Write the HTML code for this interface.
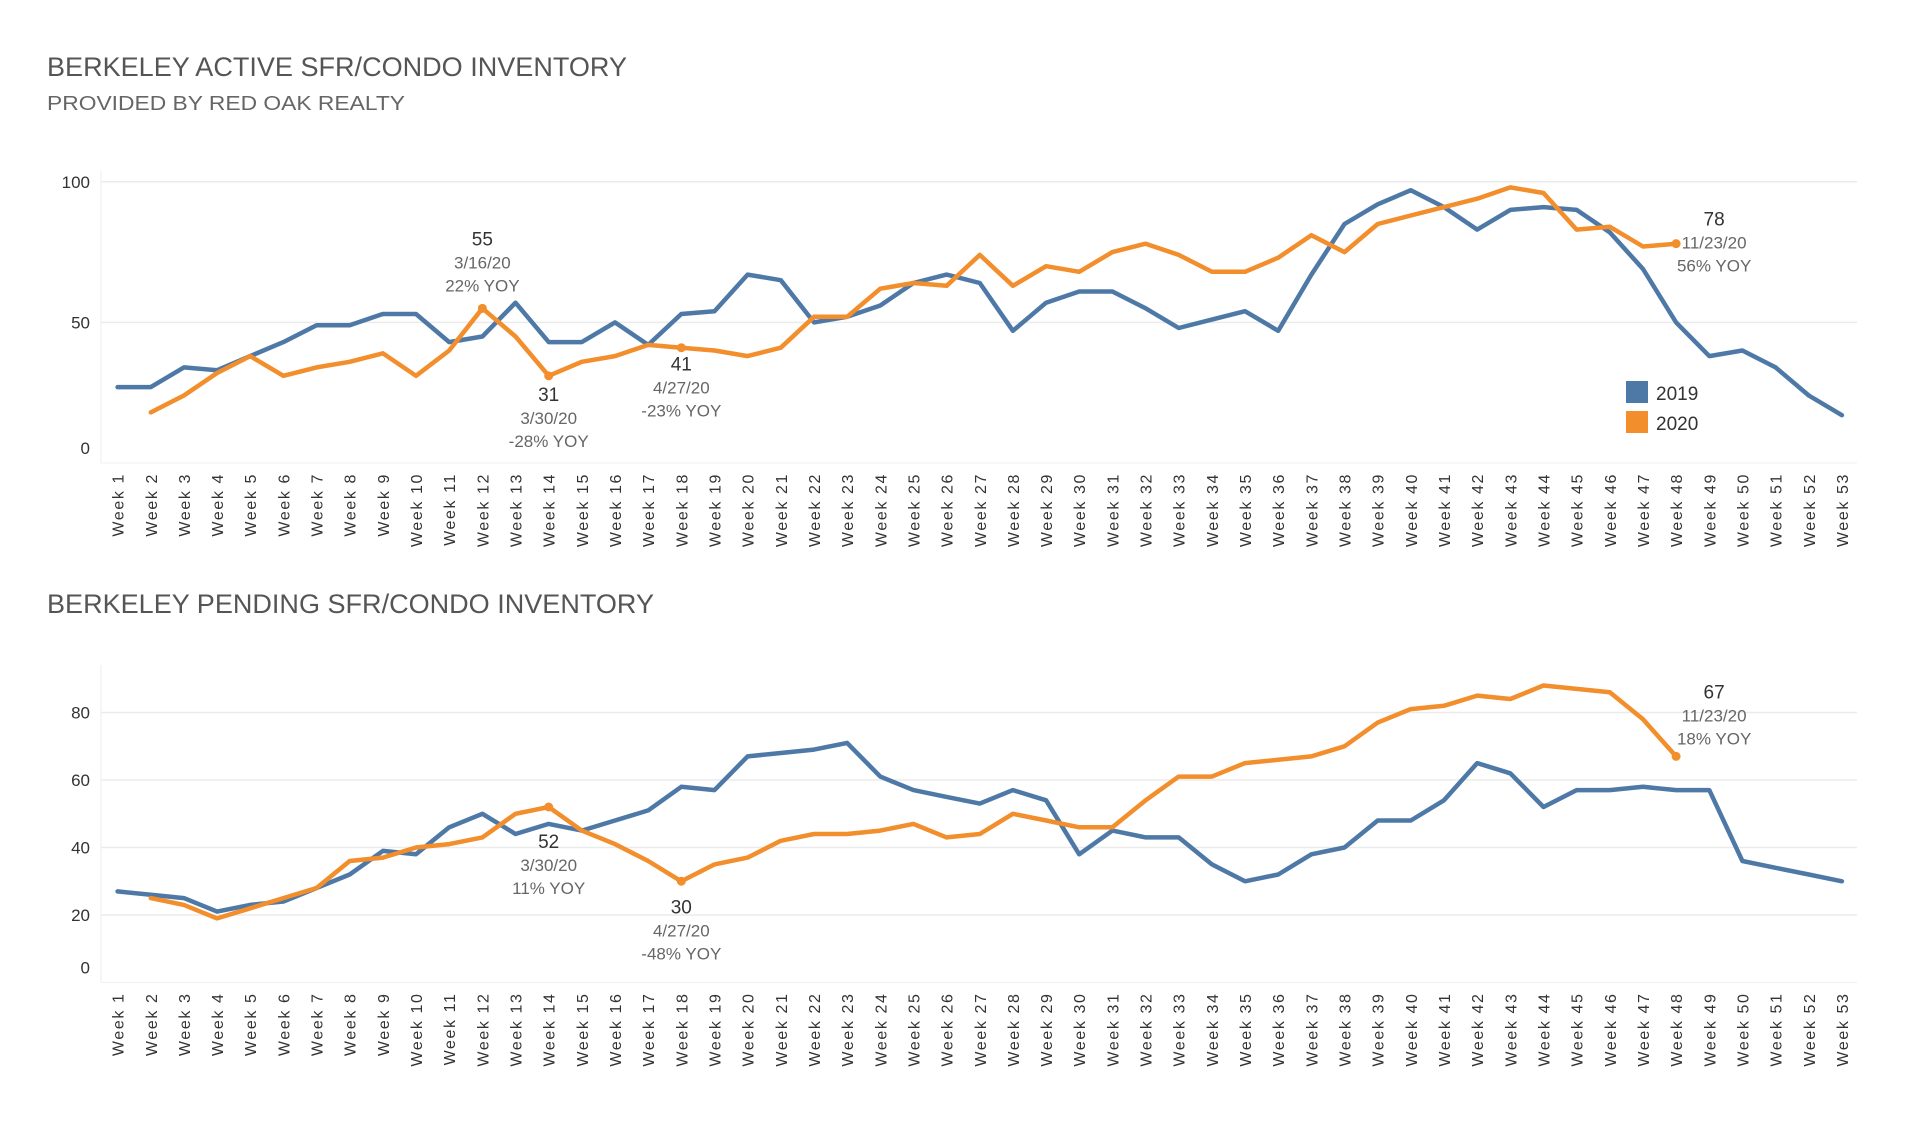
<!DOCTYPE html>
<html><head><meta charset="utf-8"><style>
body{margin:0;background:#fff;}
svg{display:block;font-family:"Liberation Sans",sans-serif;}
</style></head><body>
<svg id="svg" width="1920" height="1130" viewBox="0 0 1920 1130">
<text x="47" y="76" font-size="27" fill="#555" textLength="580" lengthAdjust="spacingAndGlyphs">BERKELEY ACTIVE SFR/CONDO INVENTORY</text>
<text x="47" y="110" font-size="20" fill="#666" textLength="358" lengthAdjust="spacingAndGlyphs">PROVIDED BY RED OAK REALTY</text>
<text x="47" y="613" font-size="27" fill="#555" textLength="607" lengthAdjust="spacingAndGlyphs">BERKELEY PENDING SFR/CONDO INVENTORY</text>
<g id="c1"></g>
<g id="c2"></g>
<g>
<rect x="1626" y="381" width="22" height="22" fill="#4e79a7"/>
<text x="1656" y="400" font-size="19" fill="#333">2019</text>
<rect x="1626" y="411" width="22" height="22" fill="#f28e2b"/>
<text x="1656" y="430" font-size="19" fill="#333">2020</text>
</g>
</svg>
<script>
const weeks = Array.from({length:53},(_,i)=>'Week '+(i+1));
const active2019 = [27,27,34,33,38,43,49,49,53,53,43,45,57,43,43,50,42,53,54,67,65,50,52,56,64,67,64,47,57,61,61,55,48,51,54,47,67,85,92,97,91,83,90,91,90,82,69,50,38,40,34,24,17];
const active2020 = [null,18,24,32,38,31,34,36,39,31,40,55,45,31,36,38,42,41,40,38,41,52,52,62,64,63,74,63,70,68,75,78,74,68,68,73,81,75,85,88,91,94,98,96,83,84,77,78];
const pending2019 = [27,26,25,21,23,24,28,32,39,38,46,50,44,47,45,48,51,58,57,67,68,69,71,61,57,55,53,57,54,38,45,43,43,35,30,32,38,40,48,48,54,65,62,52,57,57,58,57,57,36,34,32,30];
const pending2020 = [null,25,23,19,22,25,28,36,37,40,41,43,50,52,45,41,36,30,35,37,42,44,44,45,47,43,44,50,48,46,46,54,61,61,65,66,67,70,77,81,82,85,84,88,87,86,78,67];
const activeTicks = [0,50,100];
const pendingTicks = [0,20,40,60,80];
// [week, value label, date, yoy, label x offset, first-line y offset from point]
const activeNotes = [[12,'55','3/16/20','22% YOY',0,-75],[14,'31','3/30/20','-28% YOY',0,13],[18,'41','4/27/20','-23% YOY',0,11],[48,'78','11/23/20','56% YOY',38,-30]];
const pendingNotes = [[14,'52','3/30/20','11% YOY',0,29],[18,'30','4/27/20','-48% YOY',0,20],[48,'67','11/23/20','18% YOY',38,-70]];

const NS='http://www.w3.org/2000/svg';
function mk(tag,attrs,parent){const e=document.createElementNS(NS,tag);for(const k in attrs)e.setAttribute(k,attrs[k]);parent.appendChild(e);return e;}
const xs = i => 117.6 + i*33.16;

function chart(g, s19, s20, ticks, y0, yPerUnit, top, notes){
  const ys = v => y0 - v*yPerUnit;
  const ax = mk('line',{x1:101,x2:101,y1:top,y2:y0,stroke:'#eee','stroke-width':1},g);
  
  
  const bl = mk('line',{x1:101,x2:1857,y1:y0,y2:y0,stroke:'#f0f0f0','stroke-width':1},g);
  
  
  ticks.forEach(t=>{
    if(t>0){const gl=mk('line',{x1:101,x2:1857,y1:ys(t),y2:ys(t),stroke:'#ebebeb','stroke-width':1.5},g);
    
    }
    const ty = t===0 ? y0-9 : ys(t)+6;
    const tl=mk('text',{x:90,y:ty,'font-size':17,fill:'#333','text-anchor':'end'},g);
    tl.textContent=t;
    
    
  });
  weeks.forEach((w,i)=>{
    const t=mk('text',{x:0,y:0,'font-size':16,fill:'#333','text-anchor':'end','letter-spacing':'1.6',transform:`translate(${xs(i)+6},${y0+10}) rotate(-90)`},g);
    t.textContent=w;
    
    
  });
  [[s19,'#4e79a7','line-2019'],[s20,'#f28e2b','line-2020']].forEach(([s,c,n])=>{
    let d='';s.forEach((v,i)=>{if(v==null)return;d+=(d?'L':'M')+xs(i).toFixed(1)+','+ys(v).toFixed(1);});
    const p=mk('path',{d:d,fill:'none',stroke:c,'stroke-width':4.5,'stroke-linejoin':'round','stroke-linecap':'round'},g);
    
    
  });
  notes.forEach(([wk,val,date,yoy,dx,dy])=>{
    const i=wk-1, cx=xs(i), cy=ys(s20[i]);
    const dot=mk('circle',{cx:cx,cy:cy,r:4.5,fill:'#f28e2b'},g);
    
    
    const lines=[[val,19,'#333'],[date,17,'#666'],[yoy,17,'#666']];
    lines.forEach(([tx,fs,col],k)=>{
      const t=mk('text',{x:cx+dx,y:cy+dy+12+k*23,'font-size':fs,fill:col,'text-anchor':'middle'},g);
      t.textContent=tx;
      
      
    });
  });
}
chart(document.getElementById('c1'),active2019,active2020,activeTicks,463,2.812,171,activeNotes);
chart(document.getElementById('c2'),pending2019,pending2020,pendingTicks,982.5,3.375,665,pendingNotes);
</script>
</body></html>
